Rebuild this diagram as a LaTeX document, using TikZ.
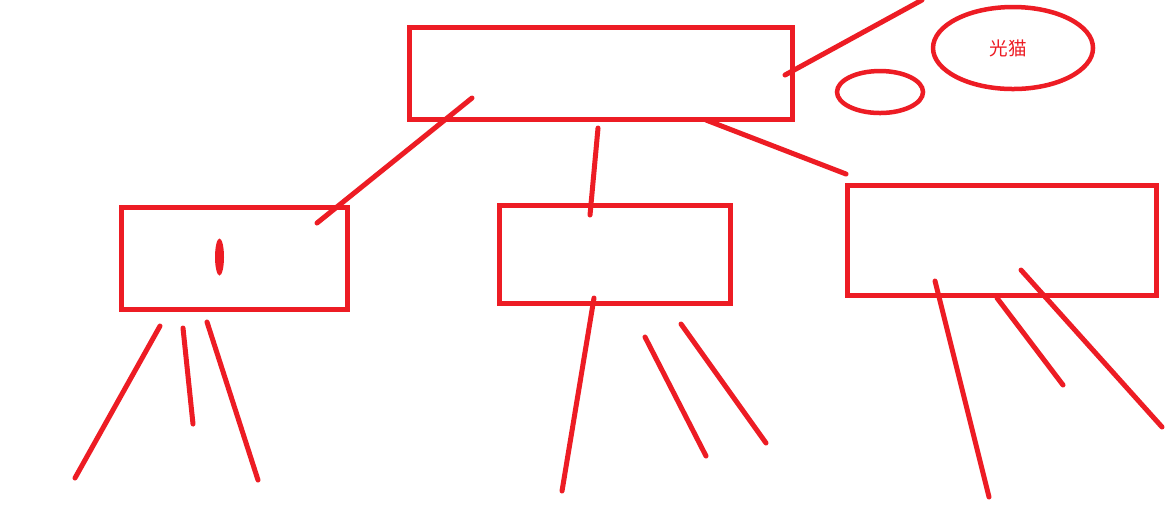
\documentclass[tikz,border=0pt]{standalone}
\usepackage{fontspec}
\newfontfamily\cjk{Noto Sans CJK SC}
\definecolor{pred}{HTML}{ED1C24}
\begin{document}
\begin{tikzpicture}[x=0.01cm,y=-0.01cm,
  box/.style={draw=pred,line width=0.05cm},
  stroke/.style={draw=pred,line width=0.05cm,line cap=round},
  ring/.style={draw=pred,line width=0.045cm}]
\useasboundingbox[fill=white] (0,0) rectangle (1174,526);
% boxes
\draw[box] (409,27) rectangle (792,119);
\draw[box] (121.5,207.5) rectangle (347.5,309);
\draw[box] (499,205) rectangle (730,303);
\draw[box] (847,185) rectangle (1156,295);
% ellipses
\draw[ring] (880,92) ellipse [x radius=43, y radius=21];
\draw[ring] (1013,48) ellipse [x radius=80, y radius=41];
\node[text=pred,inner sep=0pt,font=\cjk\fontsize{5.3pt}{6pt}\selectfont] (gm) at (1008,48) {光猫};
\fill[pred] (219.5,257) ellipse [x radius=4.5, y radius=18.5];
% named coordinates
\coordinate (t1) at (785,75); \coordinate (t2) at (922,0);
\coordinate (a1) at (472,98); \coordinate (a2) at (317,223);
\coordinate (b1) at (598,128); \coordinate (b2) at (590,215);
\coordinate (c1) at (706,120); \coordinate (c2) at (846,174);
\coordinate (l1a) at (160,326); \coordinate (l1b) at (75,478);
\coordinate (l2a) at (183,328); \coordinate (l2b) at (193,424);
\coordinate (l3a) at (207,322); \coordinate (l3b) at (258,480);
\coordinate (m1a) at (594,298); \coordinate (m1b) at (562,491);
\coordinate (m2a) at (645,337); \coordinate (m2b) at (706,456);
\coordinate (m3a) at (681,324); \coordinate (m3b) at (766,443);
\coordinate (r1a) at (935,281); \coordinate (r1b) at (989,497);
\coordinate (r2a) at (997,298); \coordinate (r2b) at (1063,385);
\coordinate (r3a) at (1021,270); \coordinate (r3b) at (1162,427);
\draw[stroke] (t1) -- (t2);
\draw[stroke] (a1) -- (a2);
\draw[stroke] (b1) -- (b2);
\draw[stroke] (c1) -- (c2);
\draw[stroke] (l1a) -- (l1b);
\draw[stroke] (l2a) -- (l2b);
\draw[stroke] (l3a) -- (l3b);
\draw[stroke] (m1a) -- (m1b);
\draw[stroke] (m2a) -- (m2b);
\draw[stroke] (m3a) -- (m3b);
\draw[stroke] (r1a) -- (r1b);
\draw[stroke] (r2a) -- (r2b);
\draw[stroke] (r3a) -- (r3b);
\end{tikzpicture}
\end{document}
